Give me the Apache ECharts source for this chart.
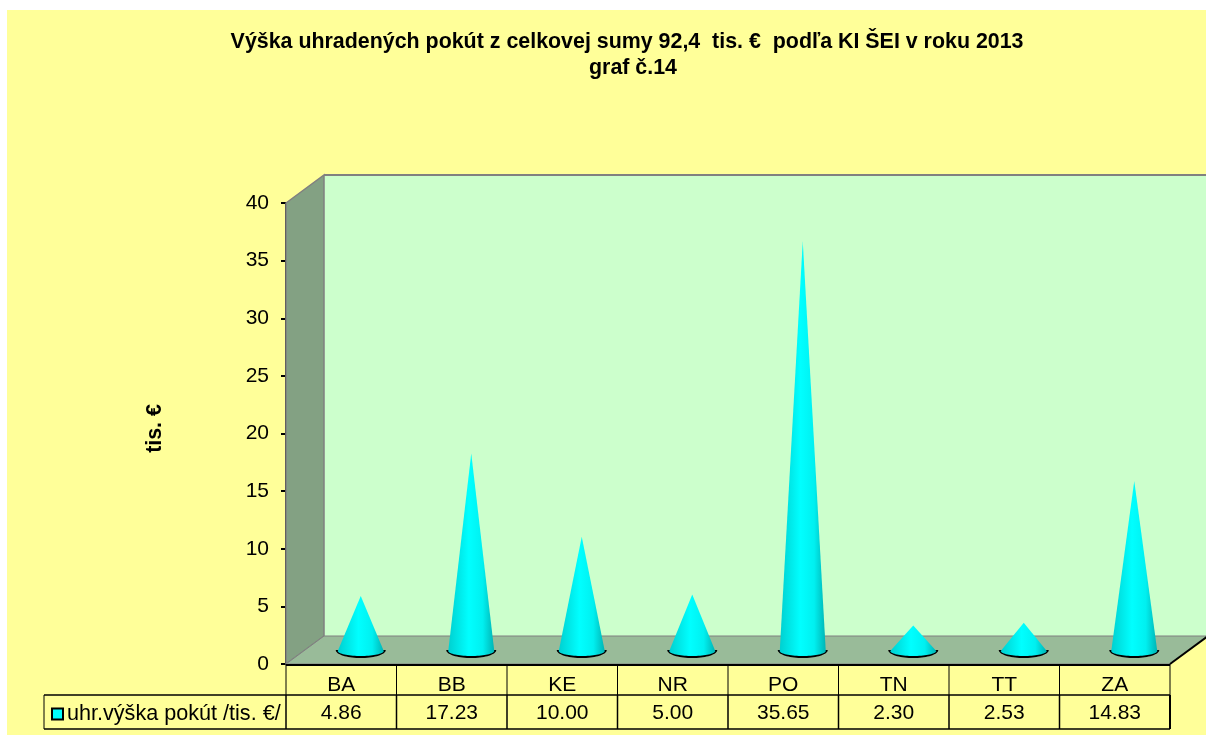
<!DOCTYPE html>
<html>
<head>
<meta charset="utf-8">
<style>
html, body { margin: 0; padding: 0; background: #fff; }
#paper { position: absolute; left: 7px; top: 10px; width: 1199px; height: 725px; background: #ffff99; }
#chart { position: absolute; left: 0; top: 0; width: 1206px; height: 740px; }
</style>
</head>
<body>
<div id="paper"></div>
<div id="chart"></div>
<script src="https://cdn.jsdelivr.net/npm/echarts@6/dist/echarts.min.js"></script>
<script>
const titleLines = ['Výška uhradených pokút z celkovej sumy 92,4  tis. €  podľa KI ŠEI v roku 2013  ', 'graf č.14']
const categories = ['BA', 'BB', 'KE', 'NR', 'PO', 'TN', 'TT', 'ZA']
const values = [4.86, 17.23, 10.00, 5.00, 35.65, 2.30, 2.53, 14.83]
const valueLabels = ['4.86', '17.23', '10.00', '5.00', '35.65', '2.30', '2.53', '14.83']
const seriesName = 'uhr.výška pokút /tis. €/'
const yName = 'tis. €'

const FONT = '"Liberation Sans", Arial, sans-serif'
// hlbka 3D steny
const DEPTH_X = 38
const DEPTH_Y = 28

const chart = echarts.init(document.getElementById('chart'))

// steny a podlaha
function renderFrame (params, api) {
  if (params.dataIndex !== 0) return
  const g = params.coordSys
  const x0 = g.x
  const x1 = g.x + g.width
  const y0 = g.y
  const y1 = g.y + g.height
  const dx = DEPTH_X
  const dy = DEPTH_Y
  return {
    type: 'group',
    children: [
      { type: 'polygon', shape: { points: [[x0 + dx, y0 - dy], [1206, y0 - dy], [1206, y1 - dy], [x0 + dx, y1 - dy]] }, style: { fill: '#ccffcc' } },
      { type: 'line', shape: { x1: x0 + dx, y1: y0 - dy, x2: 1206, y2: y0 - dy }, style: { stroke: '#808080', lineWidth: 2 } },
      { type: 'polygon', shape: { points: [[x0, y0], [x0 + dx, y0 - dy], [x0 + dx, y1 - dy], [x0, y1]] }, style: { fill: '#83a183', stroke: '#808080', lineWidth: 1.5 } },
      { type: 'polygon', shape: { points: [[x0, y1], [x0 + dx, y1 - dy], [1206, y1 - dy], [1206, y1 - dy], [x1 + dx, y1 - dy], [x1, y1]] }, style: { fill: '#99bb99', stroke: '#808080', lineWidth: 1 } },
      { type: 'line', shape: { x1: x1, y1: y1, x2: x1 + dx, y2: y1 - dy }, style: { stroke: '#000', lineWidth: 2 } }
    ]
  }
}

// kuzel z polygonov, vrchol podla hodnoty
function renderCone (params, api) {
  const base = api.coord([api.value(0), 0])
  const top = api.coord([api.value(0), api.value(1)])
  const cx = base[0] + 19.5
  const cy = base[1] - 13
  const rx = 23
  const ry = 5
  const tipY = top[1] - 12
  const pts = [[cx, tipY]]
  const ring = []
  for (let i = 0; i <= 36; i++) {
    const a = Math.PI * i / 36
    pts.push([cx + rx * Math.cos(a), cy + ry * Math.sin(a)])
  }
  for (let i = 0; i <= 36; i++) {
    const a = Math.PI * i / 36
    ring.push([cx + (rx + 2) * Math.cos(a), cy - 1 + (ry + 3) * Math.sin(a)])
  }
  return {
    type: 'group',
    children: [
      { type: 'polygon', shape: { points: ring }, style: { fill: '#000' } },
      {
        type: 'polygon',
        shape: { points: pts },
        style: {
          fill: new echarts.graphic.LinearGradient(0, 0, 1, 0, [
            { offset: 0, color: '#00d0d0' },
            { offset: 0.45, color: '#00ffff' },
            { offset: 0.75, color: '#00f0f0' },
            { offset: 1, color: '#00b4b4' }
          ])
        }
      }
    ]
  }
}

// ciary tabulky pod osou
function renderTable (params, api) {
  if (params.dataIndex !== 0) return
  const g = params.coordSys
  const x0 = g.x
  const x1 = g.x + g.width
  const y1 = g.y + g.height
  const row1 = y1 + 31
  const row2 = y1 + 65
  const left = 44
  const lines = [
    [x0, y1 + 1, x1, y1 + 1, 2],
    [left, row1, x1, row1, 1.5],
    [left, row2, x1, row2, 1.5],
    [left, row1, left, row2, 1],
    [x1, y1, x1, row1, 1],
    [x1, row1, x1, row2, 2]
  ]
  for (let i = 0; i < categories.length; i++) {
    const x = x0 + g.width * i / categories.length
    lines.push([x, y1, x, row1, 1])
    lines.push([x, row1, x, row2, 1.5])
  }
  return {
    type: 'group',
    children: lines.map(l => ({
      type: 'line',
      shape: { x1: l[0], y1: l[1], x2: l[2], y2: l[3] },
      style: { stroke: '#000', lineWidth: l[4] }
    }))
  }
}

chart.setOption({
  animation: false,
  backgroundColor: 'transparent',
  title: {
    text: titleLines.join('\n'),
    left: 628,
    top: 24,
    textAlign: 'center',
    textStyle: { fontFamily: FONT, fontSize: 21.4, fontWeight: 'bold', color: '#000', lineHeight: 26 }
  },
  legend: {
    left: 51,
    top: 703,
    padding: 0,
    itemWidth: 11,
    itemHeight: 11,
    itemGap: 0,
    icon: 'rect',
    data: [{ name: seriesName, itemStyle: { color: '#00ffff', borderColor: '#000', borderWidth: 2 } }],
    textStyle: { fontFamily: FONT, fontSize: 21.6, color: '#000', padding: [0, 0, 0, -1] }
  },
  grid: { left: 286, top: 203, width: 884, height: 461 },
  xAxis: [
    {
      type: 'category',
      data: categories,
      axisLine: { show: false },
      axisTick: { show: false },
      axisLabel: { interval: 0, margin: 11, fontFamily: FONT, fontSize: 21, color: '#000' }
    },
    {
      type: 'category',
      position: 'bottom',
      offset: 28,
      data: valueLabels,
      axisLine: { show: false },
      axisTick: { show: false },
      axisLabel: { interval: 0, margin: 11, fontFamily: FONT, fontSize: 21, color: '#000' }
    }
  ],
  yAxis: {
    type: 'value',
    min: 0,
    max: 40,
    interval: 5,
    name: yName,
    nameLocation: 'middle',
    nameGap: 120,
    nameTextStyle: { fontFamily: FONT, fontSize: 21.4, fontWeight: 'bold', color: '#000', padding: [0, 0, 0, 10] },
    axisLine: { show: true, lineStyle: { color: '#000', width: 2 } },
    axisTick: { show: true, length: 5, lineStyle: { color: '#000', width: 2 } },
    axisLabel: { margin: 17, fontFamily: FONT, fontSize: 21, color: '#000', padding: [3, 0, 0, 0] },
    splitLine: { show: false }
  },
  series: [
    { type: 'custom', name: 'frame', silent: true, z: 1, renderItem: renderFrame, data: [0], encode: { x: 0 } },
    { type: 'custom', name: 'table', silent: true, z: 1, renderItem: renderTable, data: [0], encode: { x: 0 } },
    {
      type: 'custom',
      name: seriesName,
      z: 3,
      renderItem: renderCone,
      itemStyle: { color: '#00ffff' },
      data: values.map((v, i) => [i, v]),
      encode: { x: 0, y: 1 }
    }
  ]
})
</script>
</body>
</html>
